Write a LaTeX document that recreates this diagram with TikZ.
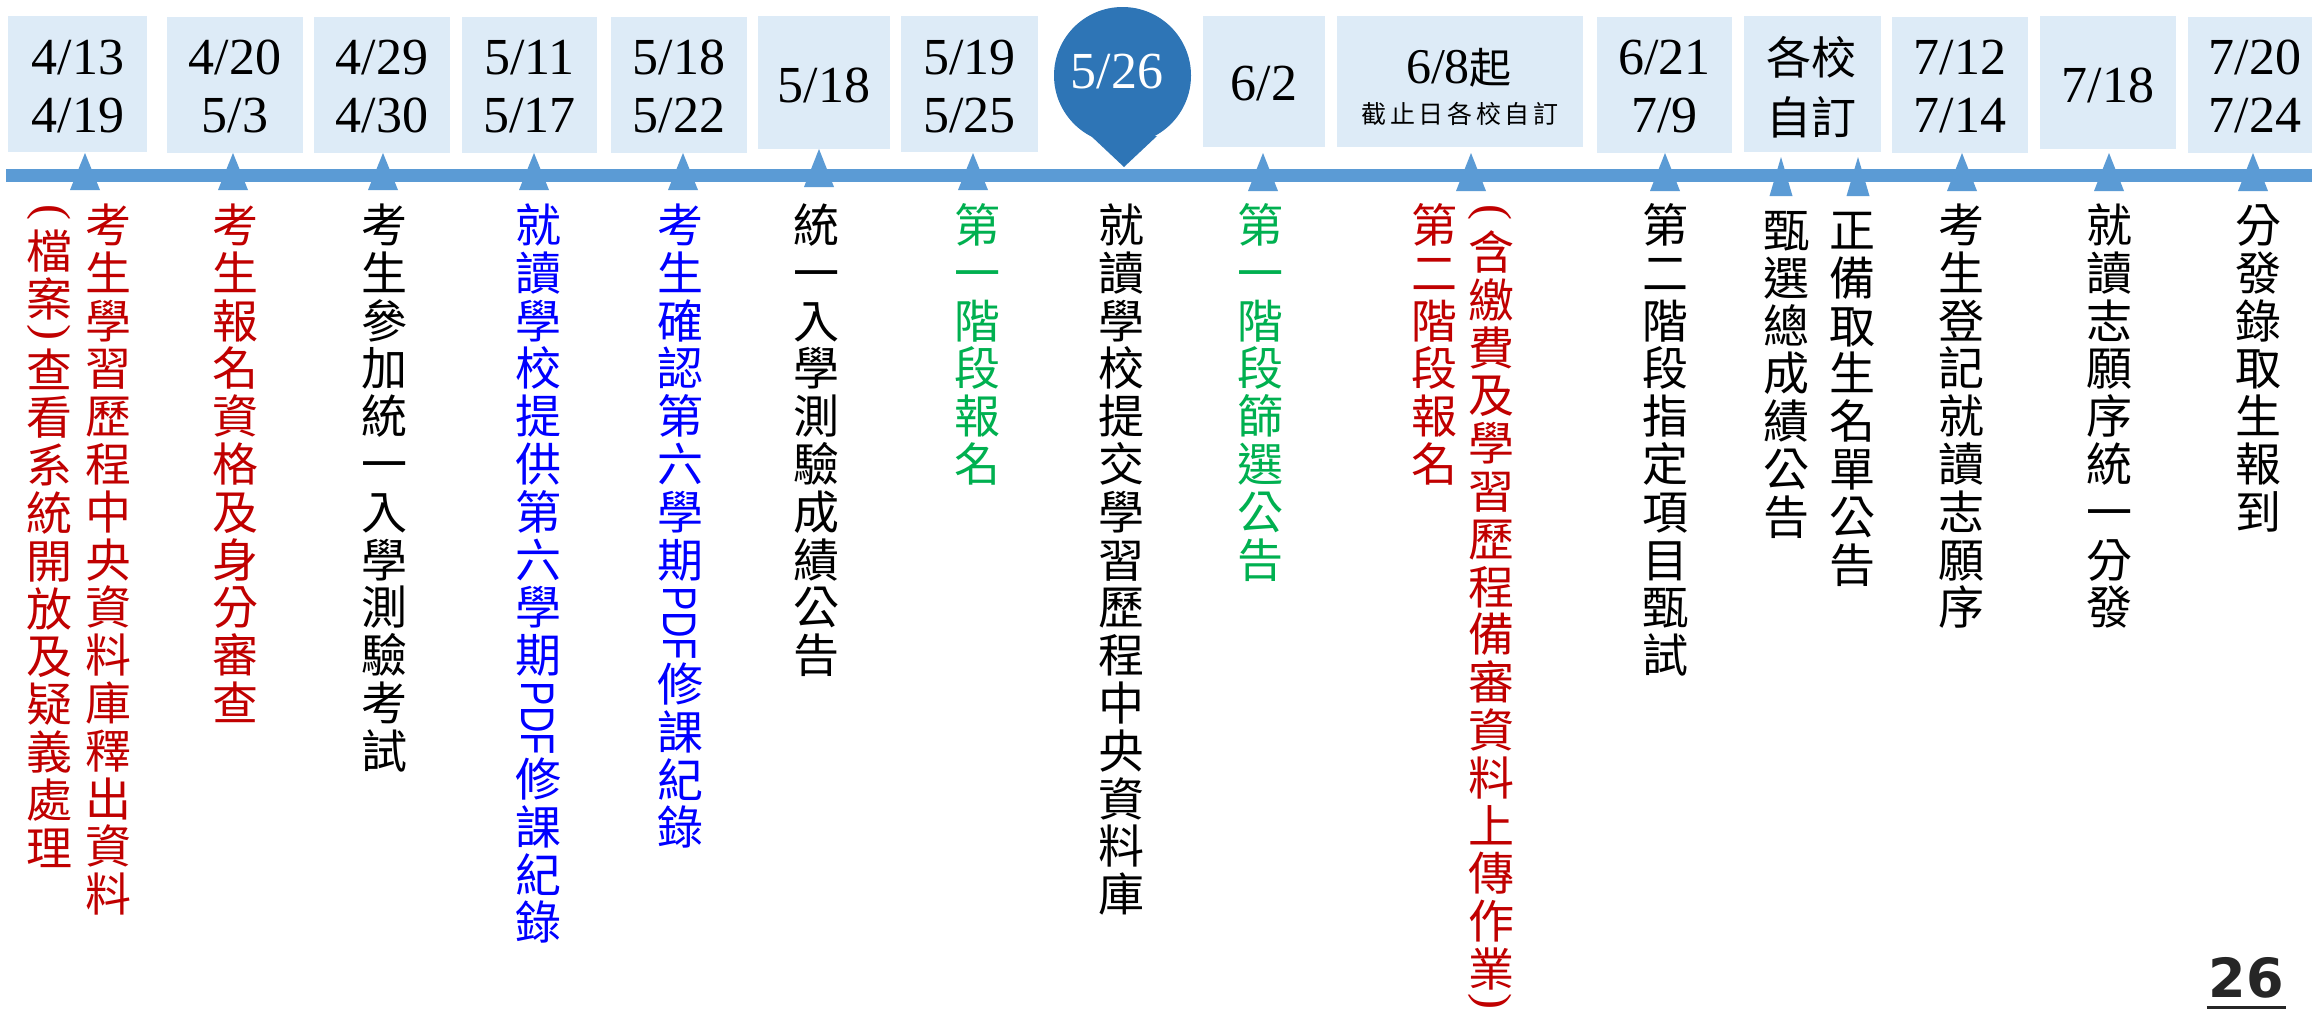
\documentclass[tikz,border=0pt]{standalone}
\usepackage{fontspec}
\usepackage{graphicx}
\usetikzlibrary{fit,calc}
\newfontfamily\cjk{Noto Sans CJK TC}
\newfontfamily\serifnum{Liberation Serif}
\newfontfamily\sansl{Liberation Sans}
\newfontfamily\djv{DejaVu Sans}
\definecolor{boxfill}{HTML}{DDEBF7}
\definecolor{axisblue}{HTML}{5B9BD5}
\definecolor{pinblue}{HTML}{2E75B6}
\definecolor{tred}{HTML}{C00000}
\definecolor{tblue}{HTML}{0000FF}
\definecolor{tgreen}{HTML}{00B050}
\definecolor{numgray}{HTML}{262626}
\tikzset{
 datebox/.style={fill=boxfill, draw=none, inner sep=0pt, outer sep=0pt},
 datetxt/.style={anchor=base, inner sep=0pt, font=\serifnum\fontsize{52}{58}\selectfont},
 cjkbig/.style={anchor=base, inner sep=0pt, font=\cjk\fontsize{45}{50}\selectfont},
 vch/.style={anchor=base, inner sep=0pt, font=\cjk\fontsize{46}{48}\selectfont},
 paren/.style={anchor=center, inner sep=0pt, font=\serifnum\fontsize{48}{48}\selectfont},
 pdftxt/.style={anchor=center, inner sep=0pt, font=\sansl\fontsize{47}{47}\selectfont},
}
\newcommand\vcol[5]{%
 \foreach \c [count=\i from 0] in {#5} {\node[vch,#4] (#1-\i) at (#2,{#3+\i*47.8+17.5}) {\c};}}
\newcommand\tri[4]{\fill[axisblue] ({#1-#2},#4) -- (#1,#3) -- ({#1+#2},#4) -- cycle;}
\newcommand\pdfrot{\rotatebox[origin=c]{-90}{\scalebox{0.78}[1]{PDF}}}
\begin{document}
\begin{tikzpicture}[x=1pt,y=-1pt]
\useasboundingbox (0,0) rectangle (2312,1012);
\fill[white] (0,0) rectangle (2312,1012);
% date boxes
\node[datebox, fit={(8,16) (147,152)}] (b1) {};
\node[datebox, fit={(167,17) (303,153)}] (b2) {};
\node[datebox, fit={(314,17) (450,153)}] (b3) {};
\node[datebox, fit={(462,17) (597,153)}] (b4) {};
\node[datebox, fit={(611,17) (747,153)}] (b5) {};
\node[datebox, fit={(758,16) (890,149)}] (b6) {};
\node[datebox, fit={(901,16) (1038,152)}] (b7) {};
\node[datebox, fit={(1203,16) (1325,147)}] (b8) {};
\node[datebox, fit={(1337,16) (1583,147)}] (b9) {};
\node[datebox, fit={(1597,17) (1732,153)}] (b10) {};
\node[datebox, fit={(1744,16) (1881,152)}] (b11) {};
\node[datebox, fit={(1892,17) (2028,153)}] (b12) {};
\node[datebox, fit={(2040,16) (2176,149)}] (b13) {};
\node[datebox, fit={(2188,17) (2330,153)}] (b14) {};
% axis
\fill[axisblue] (6,169) rectangle (2312,182);
% markers
\tri{85}{15}{153}{190}
\tri{233}{15}{153}{190}
\tri{383}{15}{153}{190}
\tri{534}{15}{153}{190}
\tri{683}{15}{153}{190}
\tri{819}{15}{149}{187}
\tri{973}{15}{153}{190}
\tri{1263}{15}{153}{191}
\tri{1471}{15}{153}{191}
\tri{1665}{15}{153}{191}
\tri{1781}{11.5}{157}{196}
\tri{1858}{11.5}{157}{196}
\tri{1962}{15}{153}{191}
\tri{2109}{15}{153}{191}
\tri{2253}{15}{153}{191}
% pin
\fill[pinblue] (1122.5,75.5) circle[radius=68.5pt];
\fill[pinblue] (1091,136) -- (1157,136) -- (1124,167) -- cycle;
% date texts
\node[datetxt] (t1a) at (78,74) {4/13};
\node[datetxt] (t1b) at (78,132) {4/19};
\node[datetxt] (t2a) at (235,74) {4/20};
\node[datetxt] (t2b) at (235,132) {5/3};
\node[datetxt] (t3a) at (382,74) {4/29};
\node[datetxt] (t3b) at (382,132) {4/30};
\node[datetxt] (t4a) at (529.5,74) {5/11};
\node[datetxt] (t4b) at (529.5,132) {5/17};
\node[datetxt] (t5a) at (679,74) {5/18};
\node[datetxt] (t5b) at (679,132) {5/22};
\node[datetxt] (t6) at (824,102) {5/18};
\node[datetxt] (t7a) at (969.5,74) {5/19};
\node[datetxt] (t7b) at (969.5,132) {5/25};
\node[datetxt, text=white] (tpin) at (1117,88) {5/26};
\node[datetxt] (t8) at (1264,100) {6/2};
\node[anchor=base, inner sep=0pt] (t9a) at (1459,83) {{\serifnum\fontsize{50}{50}\selectfont 6/8}{\cjk\fontsize{42}{42}\selectfont 起}};
\node[anchor=base, inner sep=0pt, font=\cjk\fontsize{25}{25}\selectfont] (t9b) at (1460,123) {\makebox[28.6pt]{截}\makebox[28.6pt]{止}\makebox[28.6pt]{日}\makebox[28.6pt]{各}\makebox[28.6pt]{校}\makebox[28.6pt]{自}\makebox[28.6pt]{訂}};
\node[datetxt] (t10a) at (1664.5,74) {6/21};
\node[datetxt] (t10b) at (1664.5,132) {7/9};
\node[cjkbig] (t11a) at (1811,74.5) {各校};
\node[cjkbig] (t11b) at (1811,134) {自訂};
\node[datetxt] (t12a) at (1960,74) {7/12};
\node[datetxt] (t12b) at (1960,132) {7/14};
\node[datetxt] (t13) at (2108,102) {7/18};
\node[datetxt] (t14a) at (2255,74) {7/20};
\node[datetxt] (t14b) at (2255,132) {7/24};
% vertical texts
\vcol{c1r}{108}{225}{tred}{考,生,學,習,歷,程,中,央,資,料,庫,釋,出,資,料}
\node[paren,tred] (p1o) at (49,214) {\rotatebox[origin=c]{-90}{(}};
\vcol{c1m}{50}{251}{tred}{檔,案}
\node[paren,tred] (p1c) at (49,334) {\rotatebox[origin=c]{-90}{)}};
\vcol{c1l}{50}{369.5}{tred}{查,看,系,統,開,放,及,疑,義,處,理}
\vcol{c2}{235}{225}{tred}{考,生,報,名,資,格,及,身,分,審,查}
\vcol{c3}{384}{225}{}{考,生,參,加,統,一,入,學,測,驗,考,試}
\vcol{c4a}{538}{225}{tblue}{就,讀,學,校,提,供,第,六,學,期}
\node[pdftxt,tblue] (pdf4) at (538,718.5) {\pdfrot};
\vcol{c4b}{538}{779}{tblue}{修,課,紀,錄}
\vcol{c5a}{680}{225}{tblue}{考,生,確,認,第,六,學,期}
\node[pdftxt,tblue] (pdf5) at (680,623.5) {\pdfrot};
\vcol{c5b}{680}{684}{tblue}{修,課,紀,錄}
\vcol{c6}{816}{225}{}{統,一,入,學,測,驗,成,績,公,告}
\vcol{c7}{977}{225}{tgreen}{第,一,階,段,報,名}
\vcol{cp}{1121}{225}{}{就,讀,學,校,提,交,學,習,歷,程,中,央,資,料,庫}
\vcol{c8}{1260}{225}{tgreen}{第,一,階,段,篩,選,公,告}
\vcol{c9l}{1434}{225}{tred}{第,二,階,段,報,名}
\node[paren,tred] (p9o) at (1490,214) {\rotatebox[origin=c]{-90}{(}};
\vcol{c9r}{1491}{252}{tred}{含,繳,費,及,學,習,歷,程,備,審,資,料,上,傳,作,業}
\node[paren,tred] (p9c) at (1490,1003) {\rotatebox[origin=c]{-90}{)}};
\vcol{c10}{1665}{225}{}{第,二,階,段,指,定,項,目,甄,試}
\vcol{c11a}{1786}{230}{}{甄,選,總,成,績,公,告}
\vcol{c11b}{1852}{230}{}{正,備,取,生,名,單,公,告}
\vcol{c12}{1961}{225}{}{考,生,登,記,就,讀,志,願,序}
\vcol{c13}{2109}{225}{}{就,讀,志,願,序,統,一,分,發}
\vcol{c14}{2258}{225}{}{分,發,錄,取,生,報,到}
% page number
\node[anchor=base, inner sep=0pt, text=numgray, font=\djv\bfseries\fontsize{54}{54}\selectfont] (pg) at (2246.5,997) {26};
\draw[numgray, line width=3.5pt] ($(pg.base west)+(-2,10.5)$) -- ($(pg.base east)+(2,10.5)$);
\end{tikzpicture}
\end{document}
